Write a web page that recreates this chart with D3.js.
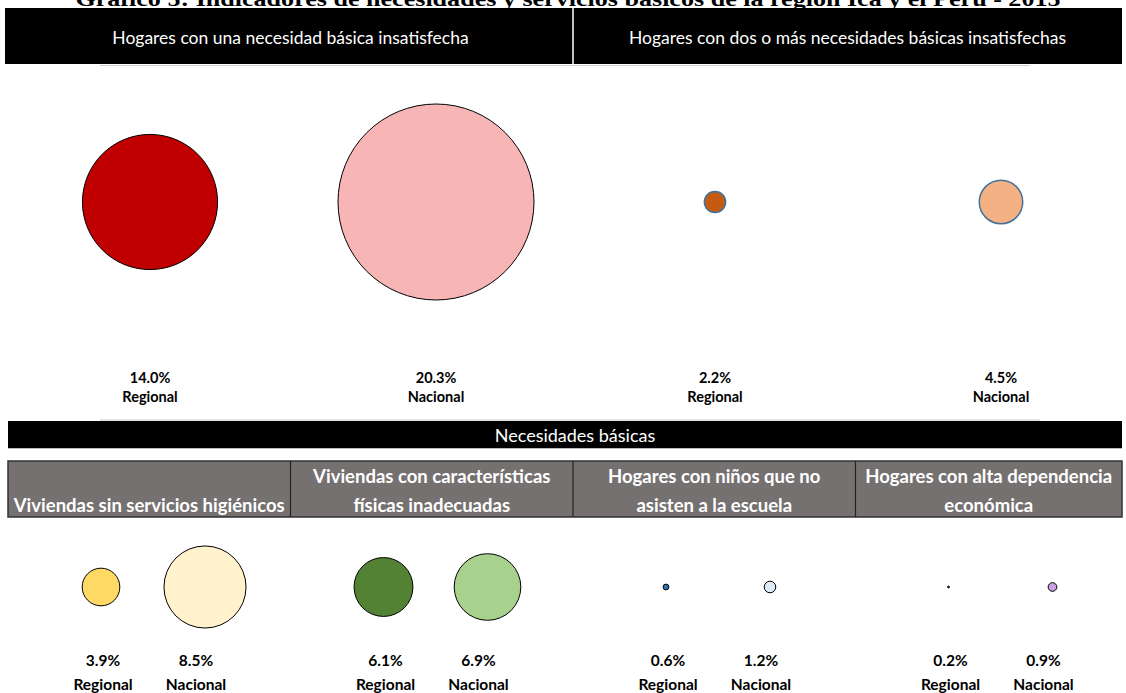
<!DOCTYPE html>
<html>
<head>
<meta charset="utf-8">
<script src="https://cdn.jsdelivr.net/npm/d3@7/dist/d3.min.js"></script>
<style>
  html, body { margin: 0; padding: 0; background: #fff; }
  svg { display: block; }
</style>
</head>
<body>
<svg id="chart" width="1126" height="693"></svg>
<script>
// ---------------- DATA ----------------
const chartTitle = "Gráfico 5: Indicadores de necesidades y servicios básicos de la región Ica y el Perú - 2015";
const topPanels = [
  "Hogares con una necesidad básica insatisfecha",
  "Hogares con dos o más necesidades básicas insatisfechas"
];
const topRegional = [14.0, 2.2];
const topNacional = [20.3, 4.5];

const sectionTitle = "Necesidades básicas";
const groupIds = ["sh", "fi", "ne", "de"];
const groupLabels = [
  ["Viviendas sin servicios higiénicos"],
  ["Viviendas con características", "físicas inadecuadas"],
  ["Hogares con niños que no", "asisten a la escuela"],
  ["Hogares con alta dependencia", "económica"]
];
const groupRegional = [3.9, 6.1, 0.6, 0.2];
const groupNacional = [8.5, 6.9, 1.2, 0.9];
const scopes = ["Regional", "Nacional"];

// ---------------- STYLES ----------------
const topFills = [["#C00000", "#F8B5B5"], ["#C55A11", "#F4B183"]];
const topStrokes = ["#000000", "#41719C"];
const groupFills = [
  ["#FFD966", "#FFF2CC"],
  ["#548235", "#A9D18E"],
  ["#2E75B6", "#DEEBF7"],
  ["#7030A0", "#CC9FE0"]
];
const FONT = "Lato, 'Open Sans', sans-serif";

// ---------------- LAYOUT ----------------
const left = 8, right = 1122;
const svg = d3.select("#chart");
const fmt = d => d.toFixed(1) + "%";

// radius proportional to value
const r = d3.scaleLinear().domain([0, 20.3]).range([0, 98]);

// bottom column band scale (4 columns)
const col = d3.scaleBand().domain(groupIds).range([left, left + 4 * 282.5]);
const colX0 = id => col(id);
const colX1 = id => Math.min(col(id) + col.bandwidth(), right);

// top panel spans two columns each
const panelX0 = i => colX0(groupIds[2 * i]);
const panelX1 = i => colX1(groupIds[2 * i + 1]);

const topSub = d3.scalePoint().domain(scopes).range([142, 428]);
const circSub = d3.scalePoint().domain(scopes).range([93, 197]);
const labSub = d3.scalePoint().domain(scopes).range([95, 188]);

const yTopCircle = 202, yTopValue = 377, yTopScope = 396;
const yBotCircle = 587, yBotValue = 660, yBotScope = 684;

// ---------------- TITLE ----------------
svg.append("text")
  .attr("x", 568).attr("y", 6)
  .attr("text-anchor", "middle")
  .attr("font-family", "'Liberation Serif', 'Times New Roman', serif")
  .attr("font-weight", "bold")
  .attr("font-size", 21)
  .attr("textLength", 985).attr("lengthAdjust", "spacingAndGlyphs")
  .attr("fill", "#000")
  .text(chartTitle);

// ---------------- TOP HEADER ----------------
svg.append("rect").attr("x", 5).attr("y", 8).attr("width", right - 5).attr("height", 56).attr("fill", "#000");
svg.append("line").attr("x1", panelX1(0)).attr("x2", panelX1(0)).attr("y1", 8).attr("y2", 64)
  .attr("stroke", "#fff").attr("stroke-width", 1.5);
svg.append("line").attr("x1", 100).attr("x2", 1030).attr("y1", 65.5).attr("y2", 65.5)
  .attr("stroke", "#d0d0d0").attr("stroke-width", 1);

topPanels.forEach((t, i) => {
  const cx = (panelX0(i) + panelX1(i)) / 2;
  svg.append("text")
    .attr("x", cx).attr("y", 37)
    .attr("text-anchor", "middle").attr("dominant-baseline", "central")
    .attr("font-family", FONT)
    .attr("font-weight", 400)
    .attr("font-size", 17.5)
    .attr("fill", "#fff")
    .text(t);
});

// top circles + labels
topPanels.forEach((t, i) => {
  const vals = [topRegional[i], topNacional[i]];
  scopes.forEach((s, j) => {
    const cx = panelX0(i) + topSub(s);
    svg.append("circle")
      .attr("cx", cx).attr("cy", yTopCircle).attr("r", r(vals[j]))
      .attr("fill", topFills[i][j])
      .attr("stroke", topStrokes[i]).attr("stroke-width", i === 0 ? 1 : 1.5);
    svg.append("text")
      .attr("x", cx).attr("y", yTopValue)
      .attr("text-anchor", "middle").attr("dominant-baseline", "central")
      .attr("font-family", FONT)
      .attr("font-weight", "bold").attr("font-size", 14.5).attr("fill", "#000")
      .text(fmt(vals[j]));
    svg.append("text")
      .attr("x", cx).attr("y", yTopScope)
      .attr("text-anchor", "middle").attr("dominant-baseline", "central")
      .attr("font-family", FONT)
      .attr("font-weight", "bold").attr("font-size", 14.5).attr("fill", "#000")
      .text(s);
  });
});

// ---------------- SECTION HEADER ----------------
svg.append("line").attr("x1", 100).attr("x2", 1040).attr("y1", 420).attr("y2", 420)
  .attr("stroke", "#c8c8c8").attr("stroke-width", 1);
svg.append("rect").attr("x", left).attr("y", 421).attr("width", right - left).attr("height", 27).attr("fill", "#000");
svg.append("line").attr("x1", left).attr("x2", right).attr("y1", 448.5).attr("y2", 448.5)
  .attr("stroke", "#bdbdbd").attr("stroke-width", 1);
svg.append("text")
  .attr("x", (left + right) / 2 + 10).attr("y", 435)
  .attr("text-anchor", "middle").attr("dominant-baseline", "central")
  .attr("font-family", FONT)
  .attr("font-weight", 400).attr("font-size", 18).attr("fill", "#fff")
  .text(sectionTitle);

// gray group header
svg.append("rect").attr("x", left).attr("y", 461).attr("width", right - left).attr("height", 56)
  .attr("fill", "#767171").attr("stroke", "#333").attr("stroke-width", 1.5);
groupIds.slice(1).forEach(id => {
  svg.append("line").attr("x1", colX0(id)).attr("x2", colX0(id)).attr("y1", 461).attr("y2", 517)
    .attr("stroke", "#222").attr("stroke-width", 1.2);
});
groupIds.forEach((id, i) => {
  const cx = (colX0(id) + colX1(id)) / 2;
  const lines = groupLabels[i];
  lines.forEach((ln, k) => {
    const y = lines.length === 1 ? 505 : 476 + k * 29;
    svg.append("text")
      .attr("x", cx).attr("y", y)
      .attr("text-anchor", "middle").attr("dominant-baseline", "central")
      .attr("font-family", FONT)
      .attr("font-weight", "bold").attr("font-size", 18.5).attr("fill", "#fff")
      .text(ln);
  });
});

// bottom circles + labels
groupIds.forEach((id, i) => {
  const vals = [groupRegional[i], groupNacional[i]];
  scopes.forEach((s, j) => {
    const cx = colX0(id) + circSub(s);
    const lx = colX0(id) + labSub(s);
    svg.append("circle")
      .attr("cx", cx).attr("cy", yBotCircle).attr("r", r(vals[j]))
      .attr("fill", groupFills[i][j])
      .attr("stroke", "#000").attr("stroke-width", 1);
    svg.append("text")
      .attr("x", lx).attr("y", yBotValue)
      .attr("text-anchor", "middle").attr("dominant-baseline", "central")
      .attr("font-family", FONT)
      .attr("font-weight", "bold").attr("font-size", 15.5).attr("fill", "#000")
      .text(fmt(vals[j]));
    svg.append("text")
      .attr("x", lx).attr("y", yBotScope)
      .attr("text-anchor", "middle").attr("dominant-baseline", "central")
      .attr("font-family", FONT)
      .attr("font-weight", "bold").attr("font-size", 15.5).attr("fill", "#000")
      .text(s);
  });
});
</script>
</body>
</html>
